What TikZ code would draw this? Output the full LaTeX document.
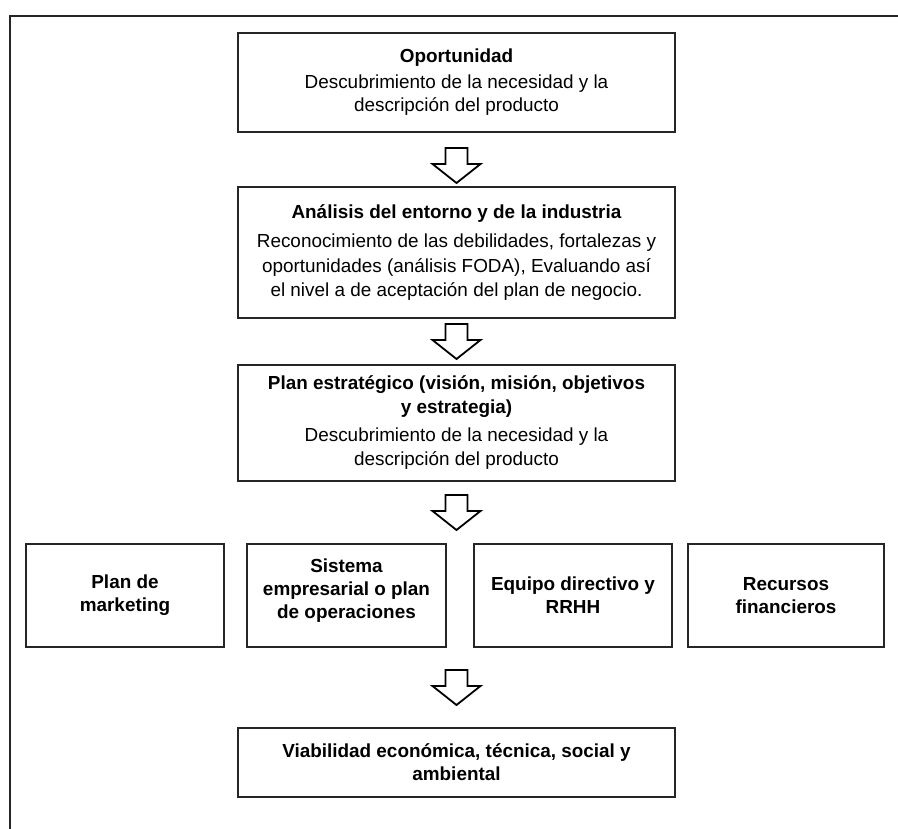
\documentclass[tikz,border=0pt]{standalone}
\usepackage{fontspec}
\setmainfont{Liberation Sans}
\usetikzlibrary{positioning, calc}

\tikzset{
  caja/.style={draw=black!85, line width=1.6pt, align=center, inner sep=4pt,
    font=\fontsize{18.9}{23}\selectfont},
  cajab/.style={caja, font=\fontsize{18.9}{23}\selectfont\bfseries},
  flecha/.style={draw=black, line width=1.8pt, fill=white, line join=miter},
  marco/.style={draw=black!85, line width=2pt},
  pics/flechabaja/.style={code={
    \draw[flecha] (-11,-17.5) -- (11,-17.5) -- (11,-1.5) -- (24,-1.5) -- (0,17.5) -- (-24,-1.5) -- (-11,-1.5) -- cycle;
  }}
}

\begin{document}
\begin{tikzpicture}[x=1pt, y=-1pt]
  \useasboundingbox (0,0) rectangle (898,829);
  % marco exterior
  \draw[marco] (898,16) -- (10,16) -- (10,829);

  % bloques principales
  \node[caja, minimum width=437, minimum height=99] (oport) at (456.5,82.5) {
    \textbf{Oportunidad}\\[3pt]
    Descubrimiento de la necesidad y la\\
    descripción del producto};
  \node[caja, font=\fontsize{18.9}{24.5}\selectfont, minimum width=437, minimum height=131] (entorno) at (456.5,252.5) {
    \textbf{Análisis del entorno y de la industria}\\[5pt]
    Reconocimiento de las debilidades, fortalezas y\\
    oportunidades (análisis FODA), Evaluando así\\
    el nivel a de aceptación del plan de negocio.};
  \node[caja, font=\fontsize{18.9}{24}\selectfont, minimum width=437, minimum height=116] (estrat) at (456.5,423) {
    \textbf{Plan estratégico (visión, misión, objetivos}\\
    \textbf{y estrategia)}\\[4pt]
    Descubrimiento de la necesidad y la\\
    descripción del producto};

  % planes funcionales
  \node[cajab, minimum width=198, minimum height=103] (mkt) at (125,595.5) {Plan de\\marketing};
  \node[cajab, minimum width=199, minimum height=103] (oper) at (346.5,595.5) {};
  \node[font=\fontsize{18.9}{23}\selectfont\bfseries, align=center] (opertxt) at ($(oper.center)+(0,-5)$) {Sistema\\empresarial o plan\\de operaciones};
  \node[cajab, minimum width=198, minimum height=103] (rrhh) at (573,595.5) {Equipo directivo y\\RRHH};
  \node[cajab, minimum width=196, minimum height=103] (finan) at (786,595.5) {Recursos\\financieros};

  \node[cajab, minimum width=437, minimum height=69] (viab) at (456.5,762.5) {Viabilidad económica, técnica, social y\\ambiental};

  % flechas de bloque
  \pic at ($(oport.south)!0.5!(entorno.north)+(0,6)$) {flechabaja};
  \pic at ($(entorno.south)!0.5!(estrat.north)$) {flechabaja};
  \pic at ($(estrat.south)!0.5!(oper.north -| estrat.south)$) {flechabaja};
  \pic at ($(oper.south -| viab.north)!0.5!(viab.north)$) {flechabaja};
\end{tikzpicture}
\end{document}
